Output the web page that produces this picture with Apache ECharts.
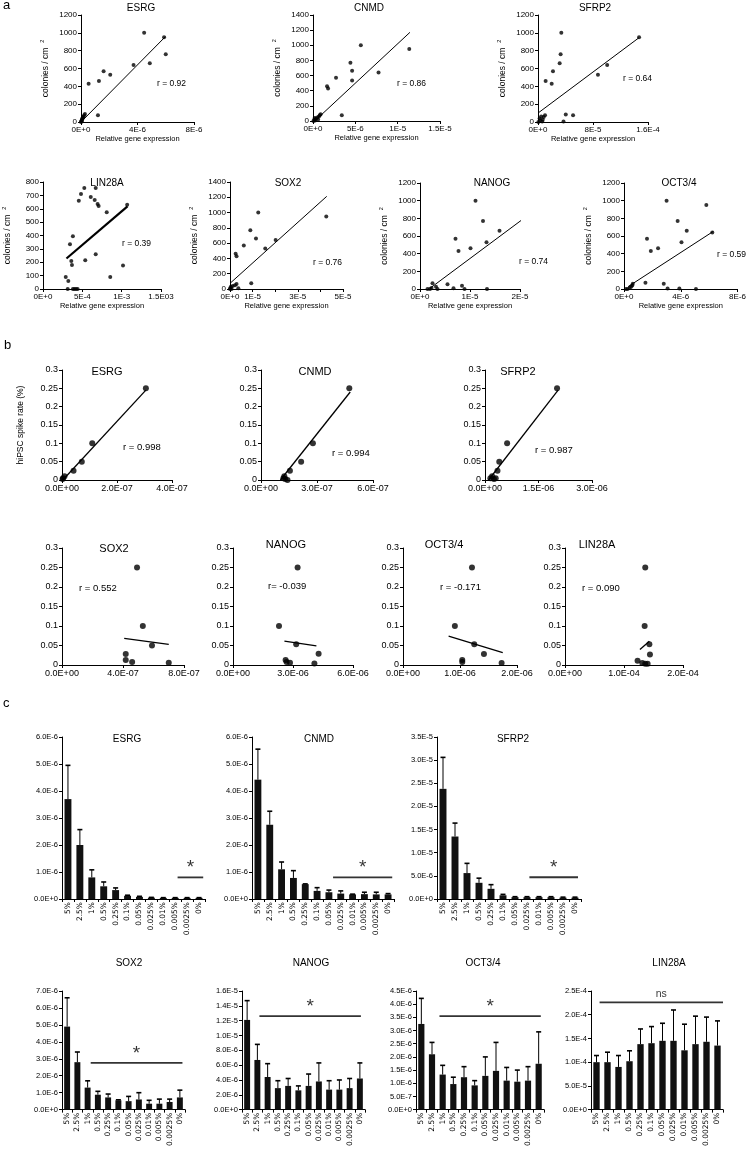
<!DOCTYPE html>
<html><head><meta charset="utf-8">
<script src="https://cdn.jsdelivr.net/npm/echarts/dist/echarts.min.js"></script>
<style>html,body{margin:0;padding:0;background:#fff}#c{width:749px;height:1149px}</style>
</head><body><div id="c"></div>
<script>
// ===================== DATA =====================
// Panel a : [relative gene expression, colonies / cm2]
const aESRG = [[4.47e-6,1000],[5.88e-6,950],[6.0e-6,760],[4.87e-6,660],[3.72e-6,640],[1.6e-6,570],[2.07e-6,530],[1.27e-6,460],[0.54e-6,430],[1.2e-6,75],
  [0,0],[0.03e-6,8],[0.05e-6,20],[0.08e-6,30],[0.1e-6,40],[0.13e-6,50],[0.17e-6,60],[0.22e-6,75],[0.28e-6,90],[0.04e-6,5]];
const aFitESRG = [[0,0],[5.98e-6,958]];
const aCNMD = [[5.65e-6,1000],[11.37e-6,950],[4.42e-6,770],[4.62e-6,665],[7.74e-6,640],[2.72e-6,570],[4.62e-6,535],[1.66e-6,460],[1.78e-6,430],[3.4e-6,75],
  [0.05e-6,0],[0.15e-6,15],[0.25e-6,5],[0.35e-6,30],[0.5e-6,45],[0.6e-6,20],[0.7e-6,60],[0.8e-6,75],[0.9e-6,90],[0.2e-6,40]];
const aFitCNMD = [[0.2e-6,0],[11.45e-6,1171]];
const aSFRP2 = [[33.9e-6,1000],[147e-6,950],[32.9e-6,760],[31.5e-6,660],[100.6e-6,640],[21.8e-6,570],[87.2e-6,530],[11.1e-6,460],[19.9e-6,430],[40.4e-6,85],[51e-6,75],[37.1e-6,5],
  [0.5e-6,0],[2.3e-6,40],[4.6e-6,63],[6e-6,7],[8.3e-6,56],[10.2e-6,75],[6.9e-6,26],[3e-6,20]];
const aFitSFRP2 = [[0,100],[147e-6,946]];
const aLIN28A = [[0.525e-3,755],[0.67e-3,755],[0.483e-3,710],[0.455e-3,660],[0.607e-3,688],[0.657e-3,665],[0.694e-3,635],[0.707e-3,620],[0.81e-3,573],[1.07e-3,630],
  [0.38e-3,395],[0.343e-3,335],[0.67e-3,260],[0.537e-3,215],[0.36e-3,210],[0.368e-3,180],[1.017e-3,175],[0.855e-3,90],[0.289e-3,90],[0.322e-3,60],
  [0.314e-3,0],[0.38e-3,0],[0.4e-3,0],[0.42e-3,0],[0.44e-3,0]];
const aFitLIN28A = [[0.298e-3,228],[1.074e-3,618]];
const aSOX2 = [[1.25e-5,1000],[4.26e-5,950],[0.9e-5,770],[1.15e-5,660],[2.02e-5,640],[0.61e-5,570],[1.56e-5,530],[0.25e-5,460],[0.29e-5,430],[0.94e-5,75],
  [0,0],[0.04e-5,30],[0.12e-5,40],[0.22e-5,50],[0.29e-5,65],[0.01e-5,10],[0.07e-5,0],[0.37e-5,10]];
const aFitSOX2 = [[0,74],[4.28e-5,1212]];
const aNANOG = [[1.11e-5,1000],[2.15e-5,950],[1.26e-5,770],[1.59e-5,660],[2.02e-5,640],[0.71e-5,570],[1.33e-5,530],[1.01e-5,460],[0.77e-5,430],
  [0.25e-5,64],[0.55e-5,53],[0.32e-5,26],[0.84e-5,38],[0.67e-5,8],[0.89e-5,0],[0.2e-5,0],[0.23e-5,10],[0.35e-5,0],[0.15e-5,0],[1.34e-5,0]];
const aFitNANOG = [[0.2e-5,8],[2.15e-5,830]];
const aOCT34 = [[3.0e-6,1000],[5.8e-6,950],[3.78e-6,770],[4.42e-6,660],[6.22e-6,640],[1.62e-6,570],[4.05e-6,530],[2.4e-6,460],[1.89e-6,430],
  [1.51e-6,70],[2.8e-6,60],[3.07e-6,5],[3.9e-6,5],[5.07e-6,0],[0.4e-6,10],[0.5e-6,25],[0.58e-6,40],[0.25e-6,0],[0.13e-6,0],[0.62e-6,60]];
const aFitOCT34 = [[0.29e-6,27],[6.29e-6,652]];

// Panel b : [relative gene expression, hiPSC spike rate (%)]
const bESRG = [[3.05e-7,0.25],[1.1e-7,0.1],[0.72e-7,0.05],[0.42e-7,0.025],[0.09e-7,0.01],[0.04e-7,0.005],[0.02e-7,0.0025]];
const bFitESRG = [[0.03e-7,0],[3.05e-7,0.245]];
const bCNMD = [[4.73e-7,0.25],[2.78e-7,0.1],[2.15e-7,0.05],[1.55e-7,0.025],[1.25e-7,0.01],[1.2e-7,0.005],[1.3e-7,0.0025],[1.42e-7,0]];
const bFitCNMD = [[1.04e-7,0],[4.78e-7,0.24]];
const bSFRP2 = [[2.02e-6,0.25],[0.62e-6,0.1],[0.40e-6,0.05],[0.35e-6,0.025],[0.2e-6,0.01],[0.15e-6,0.005],[0.25e-6,0.0025],[0.3e-6,0.005]];
const bFitSFRP2 = [[0.1e-6,0],[2.05e-6,0.245]];
const bSOX2 = [[4.92e-7,0.25],[5.3e-7,0.1],[5.9e-7,0.05],[4.18e-7,0.028],[4.18e-7,0.013],[4.6e-7,0.008],[7.0e-7,0.006]];
const bFitSOX2 = [[4.08e-7,0.068],[7.0e-7,0.053]];
const bNANOG = [[3.23e-6,0.25],[2.3e-6,0.1],[3.16e-6,0.053],[4.28e-6,0.029],[2.63e-6,0.013],[2.68e-6,0.008],[2.85e-6,0.006],[4.07e-6,0.004]];
const bFitNANOG = [[2.57e-6,0.061],[4.17e-6,0.049]];
const bOCT34 = [[1.21e-6,0.25],[0.91e-6,0.1],[1.25e-6,0.053],[1.42e-6,0.028],[1.04e-6,0.013],[1.04e-6,0.008],[1.73e-6,0.005]];
const bFitOCT34 = [[0.8e-6,0.074],[1.75e-6,0.032]];
const bLIN28A = [[1.36e-4,0.25],[1.35e-4,0.1],[1.43e-4,0.053],[1.44e-4,0.027],[1.23e-4,0.011],[1.31e-4,0.005],[1.36e-4,0.003],[1.40e-4,0.003]];
const bFitLIN28A = [[1.27e-4,0.04],[1.43e-4,0.061]];

// Panel c : dilution categories, mean and SD
const cCats = ['5%','2.5%','1%','0.5%','0.25%','0.1%','0.05%','0.025%','0.01%','0.005%','0.0025%','0%'];
const cESRG = [3.7e-6,2.0e-6,0.8e-6,0.47e-6,0.33e-6,0.12e-6,0.08e-6,0.05e-6,0.04e-6,0.04e-6,0.04e-6,0.04e-6];
const cESRGsd = [1.25e-6,0.57e-6,0.28e-6,0.16e-6,0.08e-6,0.02e-6,0.02e-6,0.01e-6,0.01e-6,0.01e-6,0.01e-6,0.01e-6];
const cCNMD = [4.42e-6,2.75e-6,1.1e-6,0.78e-6,0.55e-6,0.3e-6,0.25e-6,0.2e-6,0.17e-6,0.18e-6,0.17e-6,0.17e-6];
const cCNMDsd = [1.13e-6,0.5e-6,0.27e-6,0.27e-6,0.01e-6,0.12e-6,0.08e-6,0.1e-6,0.01e-6,0.07e-6,0.08e-6,0.03e-6];
const cSFRP2 = [2.38e-5,1.35e-5,0.56e-5,0.35e-5,0.22e-5,0.08e-5,0.04e-5,0.04e-5,0.04e-5,0.04e-5,0.03e-5,0.03e-5];
const cSFRP2sd = [0.68e-5,0.29e-5,0.21e-5,0.1e-5,0.09e-5,0.02e-5,0.01e-5,0.01e-5,0.01e-5,0.01e-5,0.01e-5,0.01e-5];
const cSOX2 = [4.9e-6,2.8e-6,1.3e-6,0.88e-6,0.72e-6,0.55e-6,0.5e-6,0.6e-6,0.35e-6,0.35e-6,0.45e-6,0.72e-6];
const cSOX2sd = [1.7e-6,0.6e-6,0.4e-6,0.2e-6,0.2e-6,0.03e-6,0.28e-6,0.4e-6,0.2e-6,0.27e-6,0.17e-6,0.43e-6];
const cNANOG = [12.1e-6,6.7e-6,4.4e-6,2.9e-6,3.2e-6,2.6e-6,3.2e-6,3.8e-6,2.7e-6,2.7e-6,2.9e-6,4.2e-6];
const cNANOGsd = [2.6e-6,2.1e-6,1.8e-6,1.0e-6,1.0e-6,0.6e-6,1.6e-6,2.5e-6,1.2e-6,1.3e-6,1.3e-6,2.1e-6];
const cOCT34 = [3.25e-6,2.1e-6,1.33e-6,0.97e-6,1.23e-6,0.92e-6,1.28e-6,1.47e-6,1.1e-6,1.06e-6,1.1e-6,1.74e-6];
const cOCT34sd = [0.97e-6,0.45e-6,0.35e-6,0.26e-6,0.4e-6,0.18e-6,0.72e-6,1.08e-6,0.5e-6,0.44e-6,0.53e-6,1.21e-6];
const cLIN28A = [1.0e-4,1.0e-4,0.9e-4,1.02e-4,1.38e-4,1.4e-4,1.45e-4,1.45e-4,1.25e-4,1.38e-4,1.43e-4,1.35e-4];
const cLIN28Asd = [0.14e-4,0.21e-4,0.24e-4,0.22e-4,0.32e-4,0.35e-4,0.37e-4,0.65e-4,0.55e-4,0.59e-4,0.52e-4,0.52e-4];
// significance bars: [from category position, to category position, level]
const sigESRG = [9.2, 11.35, 0.8e-6], sigCNMD = [6.35, 11.35, 0.8e-6], sigSFRP2 = [7.2, 11.25, 0.47e-5];
const sigSOX2 = [2.3, 11.25, 2.76e-6], sigNANOG = [1.2, 11.1, 12.6e-6], sigOCT34 = [1.7, 11.2, 3.55e-6], sigLIN28A = [0.28, 11.5, 2.26e-4];
const sigMarks = ['*','*','*','*','*','*','ns'];

// Tick label lists
const yT1200 = ['0','200','400','600','800','1000','1200'];
const yT1400 = ['0','200','400','600','800','1000','1200','1400'];
const yT800 = ['0','100','200','300','400','500','600','700','800'];
const xT_aESRG = ['0E+0','4E-6','8E-6'], xT_aCNMD = ['0E+0','5E-6','1E-5','1.5E-5'], xT_aSFRP2 = ['0E+0','8E-5','1.6E-4'];
const xT_aLIN28A = ['0E+0','5E-4','1E-3','1.5E03'], xT_aSOX2 = ['0E+0','1E-5','','3E-5','','5E-5'], xT_aNANOG = ['0E+0','1E-5','2E-5'], xT_aOCT34 = ['0E+0','4E-6','8E-6'];
const yT_b = ['0','0.05','0.1','0.15','0.2','0.25','0.3'];
const xT_bESRG = ['0.0E+00','2.0E-07','4.0E-07'], xT_bCNMD = ['0.0E+00','3.0E-07','6.0E-07'], xT_bSFRP2 = ['0.0E+00','1.5E-06','3.0E-06'];
const xT_bSOX2 = ['0.0E+00','4.0E-07','8.0E-07'], xT_bNANOG = ['0.0E+00','3.0E-06','6.0E-06'], xT_bOCT34 = ['0.0E+00','1.0E-06','2.0E-06'], xT_bLIN28A = ['0.0E+00','1.0E-04','2.0E-04'];
const yT_c6 = ['0.0E+0','1.0E-6','2.0E-6','3.0E-6','4.0E-6','5.0E-6','6.0E-6'];
const yT_cSFRP2 = ['0.0E+0','5.0E-6','1.0E-5','1.5E-5','2.0E-5','2.5E-5','3.0E-5','3.5E-5'];
const yT_cSOX2 = ['0.0E+0','1.0E-6','2.0E-6','3.0E-6','4.0E-6','5.0E-6','6.0E-6','7.0E-6'];
const yT_cNANOG = ['0.0E+0','2.0E-6','4.0E-6','6.0E-6','8.0E-6','1.0E-5','1.2E-5','1.4E-5','1.6E-5'];
const yT_cOCT34 = ['0.0E+0','5.0E-7','1.0E-6','1.5E-6','2.0E-6','2.5E-6','3.0E-6','3.5E-6','4.0E-6','4.5E-6'];
const yT_cLIN28A = ['0.0E+0','5.0E-5','1.0E-4','1.5E-4','2.0E-4','2.5E-4'];

// ===================== BUILD =====================
const FS = "'Liberation Sans', Arial, sans-serif";
const option = {animation:false, backgroundColor:'#fff', grid:[], xAxis:[], yAxis:[], series:[], graphic:[]};
function fmt(ticks, interval){
  return function(v){
    const k = Math.round(v / interval);
    if (Math.abs(k*interval - v) > interval*1e-3) return '';
    return ticks[k] !== undefined ? ticks[k] : '';
  };
}
function valAxis(gi, ticks, interval, fs, extra){
  return Object.assign({type:'value', gridIndex:gi, min:0, max:interval*(ticks.length-1), interval,
    axisLine:{show:true, onZero:false, lineStyle:{color:'#000', width:1}},
    axisTick:{show:true, length:3, lineStyle:{color:'#000'}},
    splitLine:{show:false},
    axisLabel:{color:'#000', fontSize:fs, fontFamily:FS, margin:4, formatter:fmt(ticks, interval), showMinLabel:true, showMaxLabel:true}}, extra||{});
}
function addGrid(b){ return option.grid.push({left:b[0], top:b[1], width:b[2], height:b[3]}) - 1; }
function text(x, y, s, size, align, family){
  option.graphic.push({type:'text', x, y, silent:true, style:{text:s, fontSize:size, fontFamily:family||FS, fill:'#000', align:align||'center', verticalAlign:'middle'}});
}
function scatterPlot(p){
  const gi = addGrid(p.box);
  const xa = valAxis(gi, p.xt, p.xi, p.fs);
  if (p.xName) Object.assign(xa, {name:p.xName, nameLocation:'middle', nameGap:11, nameTextStyle:{fontSize:7.5, fontFamily:FS, color:'#000'}});
  const ya = valAxis(gi, p.yt, p.yi, p.fs);
  if (p.yName) Object.assign(ya, {name:p.yName, nameLocation:'middle', nameGap:p.yGap, nameTextStyle:p.yNameStyle});
  const xi = option.xAxis.push(xa) - 1, yi = option.yAxis.push(ya) - 1;
  option.series.push({type:'line', xAxisIndex:xi, yAxisIndex:yi, data:p.fit, symbol:'none', lineStyle:{color:'#000', width:p.lw}, z:2});
  option.series.push({type:'scatter', xAxisIndex:xi, yAxisIndex:yi, data:p.data, symbolSize:p.sym, itemStyle:{color:'#000'}, z:3});
}
const colName = {name:'{t|colonies / cm}  {s|2}', style:{fontSize:8.5, fontFamily:FS, color:'#000', rich:{t:{fontSize:8.5, fontFamily:FS}, s:{fontSize:5.5, fontFamily:FS, padding:[0,0,7,0]}}}};

// ---- panel a ----
const aPlots = [
  {box:[81,15,113,107], data:aESRG, fit:aFitESRG, xt:xT_aESRG, xi:4e-6, yt:yT1200, yi:200, lw:1},
  {box:[313,15,127,106], data:aCNMD, fit:aFitCNMD, xt:xT_aCNMD, xi:5e-6, yt:yT1400, yi:200, lw:1},
  {box:[538,15,110,107], data:aSFRP2, fit:aFitSFRP2, xt:xT_aSFRP2, xi:8e-5, yt:yT1200, yi:200, lw:1},
  {box:[40,182,121,107], data:aLIN28A, fit:aFitLIN28A, xt:xT_aLIN28A, xi:5e-4, yt:yT800, yi:100, lw:2.2},
  {box:[230,182,113,107], data:aSOX2, fit:aFitSOX2, xt:xT_aSOX2, xi:1e-5, yt:yT1400, yi:200, lw:1},
  {box:[420,183,100,106], data:aNANOG, fit:aFitNANOG, xt:xT_aNANOG, xi:1e-5, yt:yT1200, yi:200, lw:1},
  {box:[624,183,120,106], data:aOCT34, fit:aFitOCT34, xt:xT_aOCT34, xi:4e-6, yt:yT1200, yi:200, lw:1}
];
aPlots.forEach(p => scatterPlot(Object.assign(p, {fs:8, sym:4, xName:'Relative gene expression', yName:colName.name, yGap:29, yNameStyle:colName.style})));

// ---- panel b ----
const bPlots = [
  {box:[62,370,110,110], data:bESRG, fit:bFitESRG, xt:xT_bESRG, xi:2e-7},
  {box:[261,370,112,110], data:bCNMD, fit:bFitCNMD, xt:xT_bCNMD, xi:3e-7},
  {box:[485,370,107,110], data:bSFRP2, fit:bFitSFRP2, xt:xT_bSFRP2, xi:1.5e-6},
  {box:[62,548,122,117], data:bSOX2, fit:bFitSOX2, xt:xT_bSOX2, xi:4e-7},
  {box:[233,548,120,117], data:bNANOG, fit:bFitNANOG, xt:xT_bNANOG, xi:3e-6},
  {box:[403,548,114,117], data:bOCT34, fit:bFitOCT34, xt:xT_bOCT34, xi:1e-6},
  {box:[565,548,118,117], data:bLIN28A, fit:bFitLIN28A, xt:xT_bLIN28A, xi:1e-4}
];
bPlots.forEach((p, i) => scatterPlot(Object.assign(p, {fs:9, sym:6, yt:yT_b, yi:0.05, lw:1.3,
  yName: i === 0 ? 'hiPSC spike rate (%)' : null, yGap:37, yNameStyle:{fontSize:8.5, fontFamily:FS, color:'#000'}})));

// ---- panel c ----
function barPlot(box, vals, sd, yt, yi, sig, mark){
  const gi = addGrid(box);
  const xi = option.xAxis.push({type:'category', gridIndex:gi, data:cCats, boundaryGap:true,
    axisLine:{show:true, lineStyle:{color:'#000'}}, axisTick:{show:true, length:3, lineStyle:{color:'#000'}},
    axisLabel:{rotate:90, interval:0, fontSize:7.5, fontFamily:"'DejaVu Sans', sans-serif", color:'#000', margin:3}}) - 1;
  const hxi = option.xAxis.push({type:'value', gridIndex:gi, min:-0.5, max:11.5, show:false}) - 1;
  const yai = option.yAxis.push(valAxis(gi, yt, yi, 7.5)) - 1;
  option.series.push({type:'bar', xAxisIndex:xi, yAxisIndex:yai, data:vals, barWidth:'58%', itemStyle:{color:'#111'}, z:2});
  option.series.push({type:'custom', xAxisIndex:xi, yAxisIndex:yai, z:3,
    data: vals.map((v, i) => [i, v, v + sd[i]]), encode:{x:0, y:[1,2]},
    renderItem: (params, api) => {
      const p0 = api.coord([api.value(0), api.value(1)]), p1 = api.coord([api.value(0), api.value(2)]);
      return {type:'group', children:[
        {type:'line', shape:{x1:p0[0], y1:p0[1], x2:p1[0], y2:p1[1]}, style:{stroke:'#000', lineWidth:1}},
        {type:'line', shape:{x1:p1[0]-2.5, y1:p1[1], x2:p1[0]+2.5, y2:p1[1]}, style:{stroke:'#000', lineWidth:1.6}}]};
    }});
  option.series.push({type:'line', xAxisIndex:hxi, yAxisIndex:yai, data:[[sig[0], sig[2]], [sig[1], sig[2]]], symbol:'none', lineStyle:{color:'#333', width:1.8}, z:4});
  option.series.push({type:'scatter', xAxisIndex:hxi, yAxisIndex:yai, data:[[(sig[0]+sig[1])/2, sig[2]]], symbolSize:0.1, itemStyle:{color:'#000'}, z:4,
    label:{show:true, position:'top', distance: mark === 'ns' ? 3 : 0, formatter: mark, fontSize: mark === 'ns' ? 10.5 : 19, fontFamily: FS, color:'#000'}});
}
barPlot([62,737,143,162], cESRG, cESRGsd, yT_c6, 1e-6, sigESRG, sigMarks[0]);
barPlot([252,737,142,162], cCNMD, cCNMDsd, yT_c6, 1e-6, sigCNMD, sigMarks[1]);
barPlot([437,737,144,162], cSFRP2, cSFRP2sd, yT_cSFRP2, 5e-6, sigSFRP2, sigMarks[2]);
barPlot([62,991,123,120], cSOX2, cSOX2sd, yT_cSOX2, 1e-6, sigSOX2, sigMarks[3]);
barPlot([242,991,123,120], cNANOG, cNANOGsd, yT_cNANOG, 2e-6, sigNANOG, sigMarks[4]);
barPlot([416,991,128,120], cOCT34, cOCT34sd, yT_cOCT34, 5e-7, sigOCT34, sigMarks[5]);
barPlot([591,991,132,120], cLIN28A, cLIN28Asd, yT_cLIN28A, 5e-5, sigLIN28A, sigMarks[6]);

// ---- texts ----
text(3, 5, 'a', 13, 'left'); text(4, 345, 'b', 13, 'left'); text(3, 703, 'c', 13, 'left');
[['ESRG',141,8],['CNMD',369,8],['SFRP2',595,8],['LIN28A',107,183],['SOX2',288,183],['NANOG',492,183],['OCT3/4',679,183]].forEach(t => text(t[1], t[2], t[0], 10));
[['r = 0.92',157,84],['r = 0.86',397,84],['r = 0.64',623,79],['r = 0.39',122,244],['r = 0.76',313,263],['r = 0.74',519,262],['r = 0.59',717,255]].forEach(t => text(t[1], t[2], t[0], 8.5, 'left'));
[['ESRG',107,372],['CNMD',315,372],['SFRP2',518,372],['SOX2',114,549],['NANOG',286,545],['OCT3/4',444,545],['LIN28A',597,545]].forEach(t => text(t[1], t[2], t[0], 11));
[['r = 0.998',123,447],['r = 0.994',332,453],['r = 0.987',535,450],['r = 0.552',79,588],['r= -0.039',268,586],['r = -0.171',440,587],['r = 0.090',582,588]].forEach(t => text(t[1], t[2], t[0], 9.5, 'left'));
[['ESRG',127,739],['CNMD',319,739],['SFRP2',513,739],['SOX2',129,963],['NANOG',311,963],['OCT3/4',483,963],['LIN28A',669,963]].forEach(t => text(t[1], t[2], t[0], 10));

const chart = echarts.init(document.getElementById('c'), null, {renderer:'canvas', width:749, height:1149});
chart.setOption(option);
</script></body></html>
